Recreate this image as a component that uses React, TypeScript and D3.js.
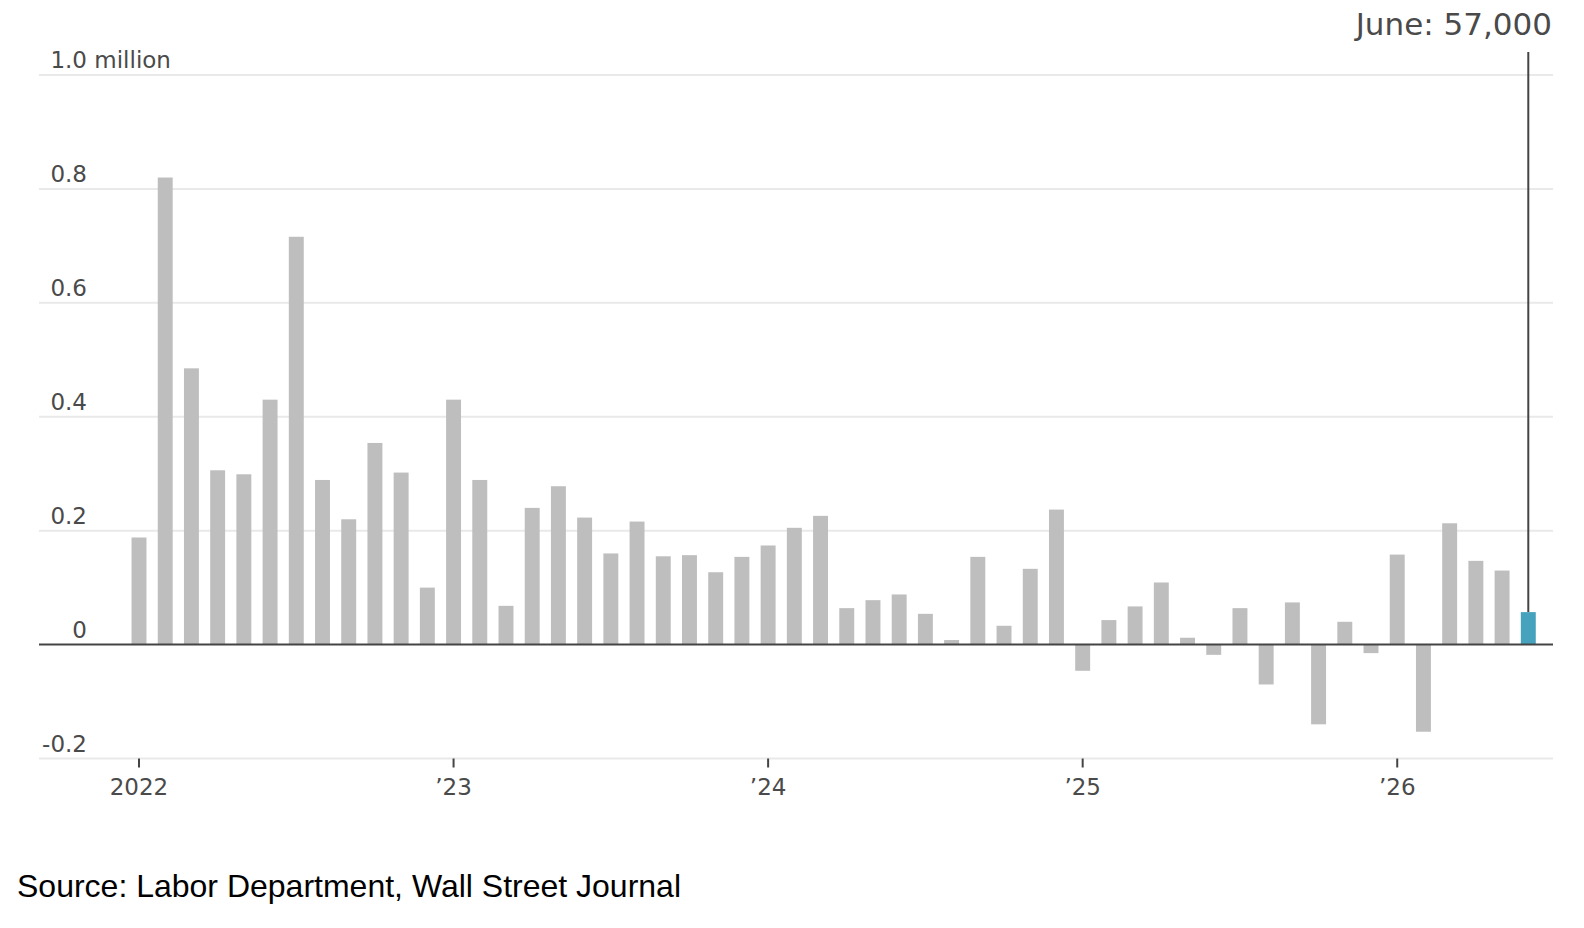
import React from "react";
import * as d3 from "d3";

const months: string[] = [
  "2022-01","2022-02","2022-03","2022-04","2022-05","2022-06","2022-07","2022-08","2022-09","2022-10","2022-11","2022-12",
  "2023-01","2023-02","2023-03","2023-04","2023-05","2023-06","2023-07","2023-08","2023-09","2023-10","2023-11","2023-12",
  "2024-01","2024-02","2024-03","2024-04","2024-05","2024-06","2024-07","2024-08","2024-09","2024-10","2024-11","2024-12",
  "2025-01","2025-02","2025-03","2025-04","2025-05","2025-06","2025-07","2025-08","2025-09","2025-10","2025-11","2025-12",
  "2026-01","2026-02","2026-03","2026-04","2026-05","2026-06",
];

// monthly change in payrolls, millions
const jobsChange: number[] = [
  0.188, 0.820, 0.485, 0.306, 0.299, 0.430, 0.716, 0.289, 0.220, 0.354, 0.302, 0.100,
  0.430, 0.289, 0.068, 0.240, 0.278, 0.223, 0.160, 0.216, 0.155, 0.157, 0.127, 0.154,
  0.174, 0.205, 0.226, 0.064, 0.078, 0.088, 0.054, 0.008, 0.154, 0.033, 0.133, 0.237,
  -0.046, 0.043, 0.067, 0.109, 0.012, -0.018, 0.064, -0.070, 0.074, -0.140, 0.040, -0.015,
  0.158, -0.153, 0.213, 0.147, 0.130, 0.057,
];

const yTicks: number[] = [-0.2, 0, 0.2, 0.4, 0.6, 0.8, 1.0];
const yTickLabels: string[] = ["-0.2", "0", "0.2", "0.4", "0.6", "0.8", "1.0"];
const yUnitSuffix = "\u00A0million";
const xTickMonths: string[] = ["2022-01", "2023-01", "2024-01", "2025-01", "2026-01"];
const xTickLabels: string[] = ["2022", "\u201923", "\u201924", "\u201925", "\u201926"];
const annotationText = "June: 57,000";
const sourceText = "Source: Labor Department, Wall Street Journal";

const W = 1584;
const H = 928;

export default function App() {
  const x = d3
    .scaleBand<string>()
    .domain(months)
    .range([125.9, 1541.4])
    .paddingInner(0.43)
    .paddingOuter(0.215);
  const y = d3.scaleLinear().domain([-0.2, 1.0]).range([758.5, 75]);

  const gridX1 = 39;
  const gridX2 = 1553;
  const labelRight = 87;
  const axisFont = "'DejaVu Sans', sans-serif";
  const textColor = "#4a4a4a";

  const last = months[months.length - 1];
  const lastVal = jobsChange[jobsChange.length - 1];
  const lastCx = (x(last) ?? 0) + x.bandwidth() / 2;

  return (
    <div style={{ position: "absolute", left: 0, top: 0, width: W, height: H, background: "#fff" }}>
      <svg width={W} height={H} viewBox={`0 0 ${W} ${H}`} style={{ display: "block" }}>
        <rect x={0} y={0} width={W} height={H} fill="#fff" />
        {/* gridlines */}
        {yTicks.filter((t) => t !== 0).map((t) => (
          <line key={`g${t}`} x1={gridX1} x2={gridX2} y1={y(t)} y2={y(t)} stroke="#e9e9e9" strokeWidth={2} />
        ))}
        {/* y labels */}
        {yTicks.map((t, i) => (
          <text key={`l${t}`} x={labelRight} y={y(t) - 7} textAnchor="end" fontFamily={axisFont} fontSize={23} fill={textColor}>
            {yTickLabels[i]}
          </text>
        ))}
        <text x={labelRight} y={y(1.0) - 7} fontFamily={axisFont} fontSize={23} fill={textColor}>
          {yUnitSuffix}
        </text>
        {/* bars */}
        {months.map((m, i) => {
          const v = jobsChange[i];
          const isLast = i === months.length - 1;
          return (
            <rect
              key={m}
              x={x(m)}
              width={x.bandwidth()}
              y={Math.min(y(v), y(0))}
              height={Math.abs(y(v) - y(0))}
              fill={isLast ? "#47a2bd" : "#bebebe"}
            />
          );
        })}
        {/* zero line */}
        <line x1={gridX1} x2={gridX2} y1={y(0)} y2={y(0)} stroke="#444" strokeWidth={2} />
        {/* x ticks */}
        {xTickMonths.map((m, i) => {
          const cx = (x(m) ?? 0) + x.bandwidth() / 2;
          return (
            <g key={m}>
              <line x1={cx} x2={cx} y1={y(-0.2)} y2={y(-0.2) + 9} stroke="#444" strokeWidth={2} />
              <text x={cx} y={795} textAnchor="middle" fontFamily={axisFont} fontSize={23} fill={textColor}>
                {xTickLabels[i]}
              </text>
            </g>
          );
        })}
        {/* annotation */}
        <line x1={lastCx} x2={lastCx} y1={52} y2={y(lastVal)} stroke="#444" strokeWidth={2} />
        <text x={1552} y={35} textAnchor="end" fontFamily={axisFont} fontSize={31} fill={textColor}>
          {annotationText}
        </text>
        {/* source */}
        <text x={17} y={897} fontFamily="'Liberation Sans', Arial, sans-serif" fontSize={32} fill="#000">
          {sourceText}
        </text>
      </svg>
    </div>
  );
}
